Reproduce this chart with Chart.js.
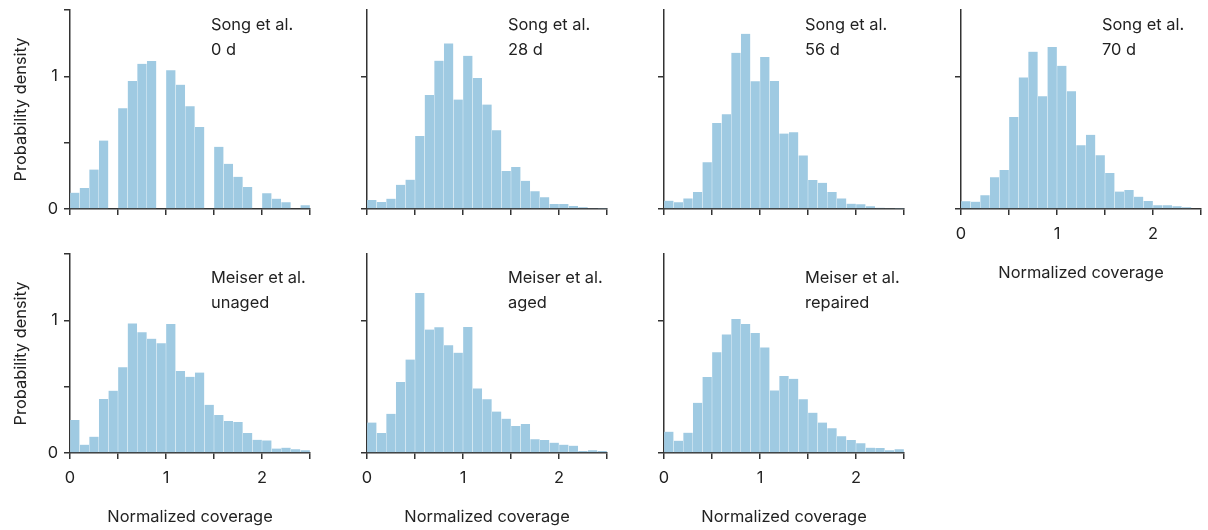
<!DOCTYPE html>
<html>
<head>
<meta charset="utf-8">
<script src="https://cdn.jsdelivr.net/npm/chart.js@4.4.1/dist/chart.umd.min.js"></script>
<style>
  html, body { margin: 0; padding: 0; background: #fff; }
  #wrap { position: relative; width: 1208px; height: 530px; overflow: hidden; font-family: Inter, "Noto Sans", sans-serif; }
  .panel { position: absolute; width: 320px; height: 285px; }
  .panel canvas { position: absolute; left: 0; top: 0; }
  .note { position: absolute; left: 211px; font-size: 16.4px; line-height: 25px; color: #222; white-space: nowrap; }
</style>
</head>
<body>
<div id="wrap"></div>
<script>
// bin centres of the 0.1-wide histogram bins, 0 .. 2.5
const binCenters = [0.05, 0.15, 0.25, 0.35, 0.45, 0.55, 0.65, 0.75, 0.85, 0.95,
  1.05, 1.15, 1.25, 1.35, 1.45, 1.55, 1.65, 1.75, 1.85, 1.95,
  2.05, 2.15, 2.25, 2.35, 2.45];

const song0d = [0.123, 0.158, 0.298, 0.516, 0, 0.759, 0.965, 1.095, 1.115, 0,
  1.045, 0.937, 0.774, 0.619, 0, 0.469, 0.341, 0.243, 0.165, 0,
  0.118, 0.078, 0.05, 0, 0.028];
const song28d = [0.068, 0.053, 0.078, 0.183, 0.221, 0.551, 0.86, 1.118, 1.248, 0.825,
  1.155, 0.987, 0.787, 0.594, 0.286, 0.316, 0.213, 0.133, 0.088, 0.038,
  0.038, 0.023, 0.013, 0.008, 0.003];
const song56d = [0.063, 0.05, 0.08, 0.128, 0.353, 0.649, 0.714, 1.178, 1.321, 0.962,
  1.145, 0.965, 0.569, 0.579, 0.404, 0.218, 0.198, 0.128, 0.08, 0.04,
  0.035, 0.02, 0.01, 0.008, 0.003];
const song70d = [0.058, 0.055, 0.103, 0.239, 0.294, 0.693, 0.992, 1.186, 0.849, 1.221,
  1.08, 0.887, 0.48, 0.56, 0.405, 0.271, 0.131, 0.143, 0.093, 0.06,
  0.028, 0.028, 0.02, 0.013, 0.005];
const meiserUnaged = [0.249, 0.063, 0.123, 0.407, 0.47, 0.646, 0.977, 0.91, 0.862, 0.827,
  0.972, 0.618, 0.575, 0.606, 0.364, 0.286, 0.241, 0.234, 0.151, 0.1,
  0.095, 0.033, 0.04, 0.028, 0.02];
const meiserAged = [0.229, 0.151, 0.296, 0.535, 0.704, 1.206, 0.93, 0.947, 0.812, 0.756,
  0.95, 0.487, 0.405, 0.312, 0.259, 0.204, 0.219, 0.103, 0.098, 0.078,
  0.063, 0.055, 0.015, 0.02, 0.015];
const meiserRepaired = [0.161, 0.093, 0.153, 0.379, 0.573, 0.759, 0.894, 1.01, 0.972, 0.905,
  0.796, 0.472, 0.58, 0.56, 0.405, 0.304, 0.229, 0.186, 0.126, 0.098,
  0.073, 0.04, 0.038, 0.02, 0.028];

const xTicks = [0, 1, 2];
const yTicks = [0, 1];
const xTitle = 'Normalized coverage';
const yTitle = 'Probability density';

const panels = [
  { data: song0d,         note: ['Song et al.', '0 d'],          row: 0, col: 0, xLabels: false },
  { data: song28d,        note: ['Song et al.', '28 d'],         row: 0, col: 1, xLabels: false },
  { data: song56d,        note: ['Song et al.', '56 d'],         row: 0, col: 2, xLabels: false },
  { data: song70d,        note: ['Song et al.', '70 d'],         row: 0, col: 3, xLabels: true },
  { data: meiserUnaged,   note: ['Meiser et al.', 'unaged'],     row: 1, col: 0, xLabels: true },
  { data: meiserAged,     note: ['Meiser et al.', 'aged'],       row: 1, col: 1, xLabels: true },
  { data: meiserRepaired, note: ['Meiser et al.', 'repaired'],   row: 1, col: 2, xLabels: true },
];

const axisX = [70, 367, 664, 961];
const plotTop = [10, 254];
const noteTop = [12, 21];
const ink = '#333';
const textInk = '#222';
const barFill = '#9fcae2';
const axisFont = { family: 'Inter', size: 16.4 };

const wrap = document.getElementById('wrap');

panels.forEach(p => {
  const box = document.createElement('div');
  box.className = 'panel';
  box.style.left = (axisX[p.col] - 70) + 'px';
  box.style.top = (plotTop[p.row] - 10) + 'px';
  const cv = document.createElement('canvas');
  cv.width = 320; cv.height = 285;
  box.appendChild(cv);
  const note = document.createElement('div');
  note.className = 'note';
  note.style.top = noteTop[p.row] + 'px';
  note.innerHTML = p.note.join('<br>');
  box.appendChild(note);
  wrap.appendChild(box);

  const firstCol = p.col === 0;

  new Chart(cv.getContext('2d'), {
    type: 'bar',
    data: {
      datasets: [{
        data: binCenters.map((c, i) => ({ x: c, y: p.data[i] })),
        backgroundColor: barFill,
        borderColor: 'rgba(255,255,255,0.22)',
        borderWidth: { left: 0.5, right: 0.5, top: 0, bottom: 0 },
        barPercentage: 1,
        categoryPercentage: 1,
      }],
    },
    options: {
      responsive: false,
      animation: false,
      events: [],
      layout: { padding: { left: 0, right: 10, top: 10, bottom: 0 } },
      plugins: { legend: { display: false }, tooltip: { enabled: false } },
      scales: {
        x: {
          type: 'linear',
          min: 0,
          max: 2.5,
          offset: false,
          afterFit: s => { s.height = 76; s.paddingLeft = 0; s.paddingRight = 0; },
          border: { display: true, color: ink, width: 1.5 },
          grid: { display: true, offset: false, drawOnChartArea: false, drawTicks: true, tickLength: 6, color: ink, lineWidth: 1.5 },
          ticks: {
            stepSize: 0.5,
            autoSkip: false,
            maxRotation: 0,
            padding: 9,
            color: textInk,
            font: axisFont,
            callback: v => (p.xLabels && xTicks.includes(v)) ? String(v) : '',
          },
          title: {
            display: p.xLabels,
            text: xTitle,
            color: textInk,
            font: axisFont,
            padding: { top: 4, bottom: 2 },
          },
        },
        y: {
          min: 0,
          max: 1.5,
          afterFit: s => { s.width = 70; s.paddingTop = 0; s.paddingBottom = 0; },
          afterBuildTicks: s => {
            if (!firstCol) s.ticks = yTicks.map(v => ({ value: v }));
          },
          border: { display: true, color: ink, width: 1.5 },
          grid: { display: true, drawOnChartArea: false, drawTicks: true, tickLength: 6, color: ink, lineWidth: 1.5 },
          ticks: {
            stepSize: 0.5,
            padding: 6,
            color: textInk,
            font: axisFont,
            callback: v => (firstCol && yTicks.includes(v)) ? String(v) : '',
          },
          title: {
            display: firstCol,
            text: yTitle,
            color: textInk,
            font: axisFont,
            padding: { top: 11, bottom: 4 },
          },
        },
      },
    },
  });
});
</script>
</body>
</html>
